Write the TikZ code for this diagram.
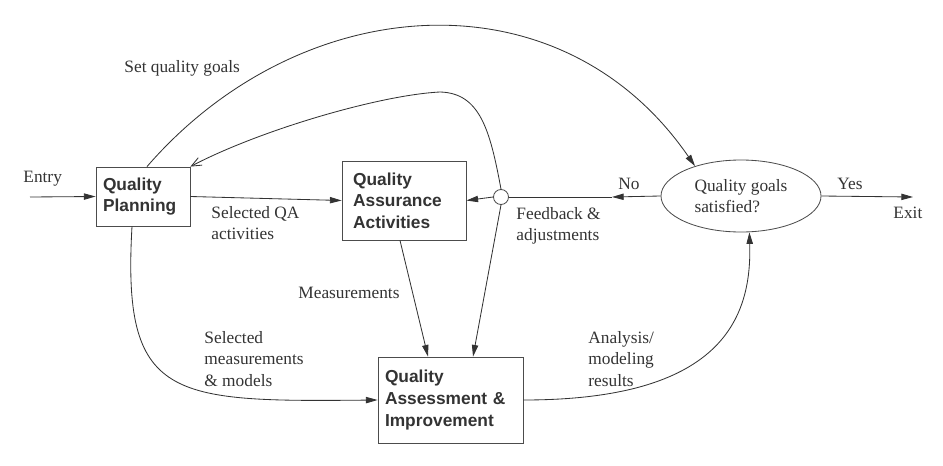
\documentclass[tikz,border=0pt]{standalone}
\usepackage{fontspec}
\setmainfont{Liberation Serif}
\newfontfamily\boxfont{Liberation Sans}
\usetikzlibrary{arrows.meta,shapes.geometric}
\begin{document}
\begin{tikzpicture}[x=0.6pt, y=-0.6pt, line width=0.5pt,
    font=\rmfamily\fontsize{10.4}{12.9}\selectfont,
    every path/.style={black!80},
    tip/.style={-{Triangle[length=7pt,width=3.8pt]}},
    box/.style={draw=black!70, rectangle, inner sep=0pt, align=left,
      font=\boxfont\bfseries\fontsize{10.4}{13}\selectfont},
    lbl/.style={anchor=west, inner sep=0pt, align=left}]
    \useasboundingbox (0,0) rectangle (943,465);
    % boxes
    \node[box, minimum width=56.4pt, minimum height=35.4pt, text width=48pt] (plan) at (143,196.5) {Quality\\Planning};
    \node[box, minimum width=74.4pt, minimum height=47.4pt, text width=61pt] (qa) at (404,200.5) {Quality\\Assurance\\Activities};
    \node[box, minimum width=87pt, minimum height=51.6pt, text width=78.6pt] (assess) at (450.5,400) {Quality\\Assessment \&\\Improvement};
    \node[draw=black!70, ellipse, inner sep=0pt, minimum width=96pt, minimum height=43.2pt, align=left] (goal) at (741,196) {Quality goals\\satisfied?};
    \node[draw=black!70, circle, fill=white, inner sep=0pt, minimum size=9pt] (fb) at (501,197) {};
    \coordinate (entry) at (30,197); \coordinate (exit) at (913,197); \coordinate (no) at (612,197);
    % straight connectors
    \draw[tip] (entry) -- (plan.west);
    \draw[tip] (plan.east) -- (qa.west);
    \draw[tip] (fb.west) -- (qa.east);
    \draw[tip] (goal.west) -- (no); \draw (no) -- (fb.east);
    \draw[tip] (goal.east) -- (exit);
    \draw[tip] ([xshift=-2.4pt]qa.south) -- ([xshift=-13.5pt]assess.north);
    \draw[tip] (fb.south) -- ([xshift=13.5pt]assess.north);
    % curved connectors
    \draw[tip] ([xshift=2.4pt]plan.north) .. controls (300,-10) and (560,-30) .. (goal.147);
    \draw[-{Straight Barb[length=6pt,width=5pt]}] (fb.north) .. controls (490,130) and (480,93) .. (440,92)
      .. controls (380,95) and (260,130) .. (plan.north east);
    \draw[tip] ([xshift=-6.6pt]plan.south) .. controls (122,400) and (170,402) .. (assess.west);
    \draw[tip] (assess.east) .. controls (720,400) and (752,320) .. (goal.283);
    % labels
    \node[lbl] (lentry) at (23,179) {Entry};
    \node[lbl] (lsel) at (211,223) {Selected QA\\activities};
    \node[lbl] (lmeas) at (298,293) {Measurements};
    \node[lbl] (lmod) at (204,359) {Selected\\measurements\\\& models};
    \node[lbl] (lfb) at (516,226) {Feedback \&\\adjustments};
    \node[lbl] (lno) at (618,184) {No};
    \node[lbl] (lyes) at (837,184) {Yes};
    \node[lbl] (lexit) at (893,213) {Exit};
    \node[lbl] (lres) at (588,359) {Analysis/\\modeling\\results};
    \node[lbl] (lgoal) at (124,68) {Set quality goals};
\end{tikzpicture}
\end{document}
